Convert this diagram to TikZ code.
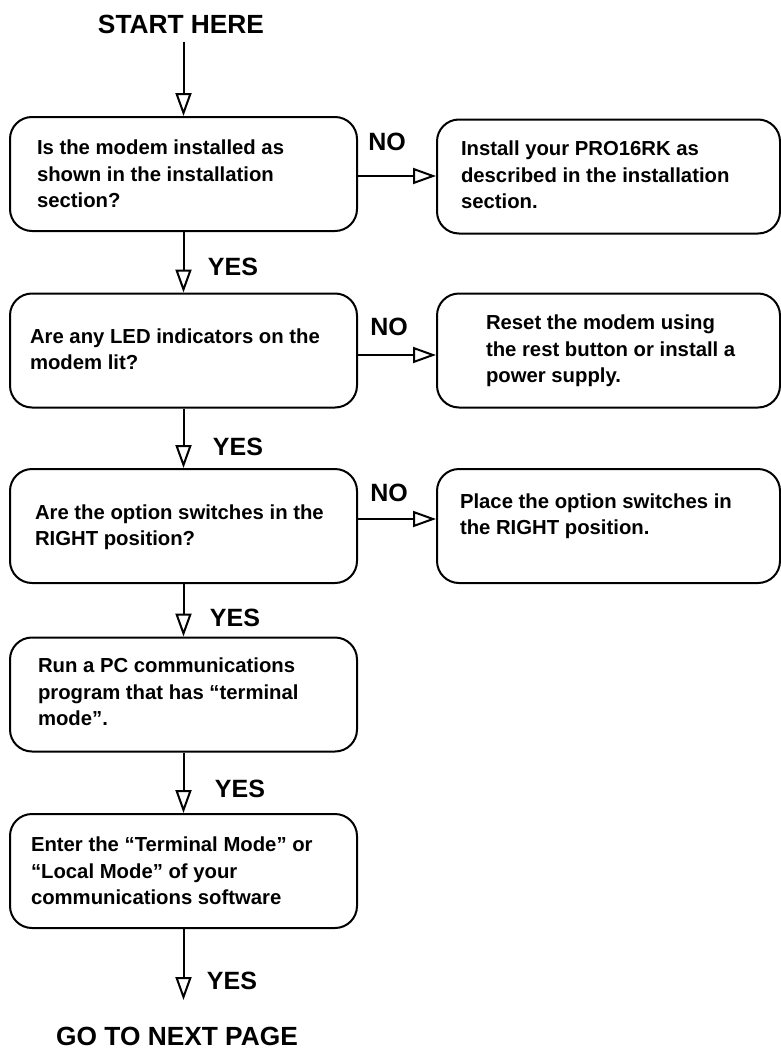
\documentclass[tikz,border=0pt]{standalone}
\usepackage{fontspec}
\setmainfont{Liberation Sans}
\usetikzlibrary{arrows.meta}
\begin{document}
\begin{tikzpicture}[x=1pt,y=-1pt,
  line width=2pt,
  box/.style={draw=black, rounded corners=22pt, minimum height=114pt, inner sep=0pt},
  lbox/.style={box, minimum width=347pt},
  rbox/.style={box, minimum width=343pt},
  txt/.style={anchor=west, inner sep=0pt, align=left, font=\fontsize{20.3}{26.5}\selectfont\bfseries},
  lab/.style={inner sep=0pt, font=\fontsize{25}{30}\selectfont\bfseries},
  big/.style={inner sep=0pt, font=\fontsize{26.3}{30}\selectfont\bfseries},
  arr/.style={-{Triangle[open, length=23pt, width=16pt, line width=2pt]}, line width=2pt}
]
\useasboundingbox (0,0) rectangle (781,1049);

% left column boxes
\node[lbox] (b1) at (183.5,174) {};
\node[lbox] (b2) at (183.5,350.5) {};
\node[lbox] (b3) at (183.5,526) {};
\node[lbox] (b4) at (183.5,694.5) {};
\node[lbox] (b5) at (183.5,871) {};
% right column boxes
\node[rbox] (r1) at (608.5,176.5) {};
\node[rbox] (r2) at (608.5,350.5) {};
\node[rbox] (r3) at (608.5,526) {};

% texts
\node[txt] (t1) at (36,174) {Is the modem installed as\\shown in the installation\\section?};
\node[txt] (t2) at (29,349) {Are any LED indicators on the\\modem lit?};
\node[txt] (t3) at (34,527) {Are the option switches in the\\RIGHT position?};
\node[txt] (t4) at (37,692) {Run a PC communications\\program that has “terminal\\mode”.};
\node[txt] (t5) at (30,871) {Enter the “Terminal Mode” or\\“Local Mode” of your\\communications software};
\node[txt] (s1) at (460,175) {Install your PRO16RK as\\described in the installation\\section.};
\node[txt] (s2) at (485,351) {Reset the modem using\\the rest button or install a\\power supply.};
\node[txt] (s3) at (459,516) {Place the option switches in\\the RIGHT position.};

% labels
\node[big] (start) at (181,24) {START HERE};
\node[big] (next) at (177,1036) {GO TO NEXT PAGE};
\node[lab] (no1) at (387,142) {NO};
\node[lab] (no2) at (389,327) {NO};
\node[lab] (no3) at (389,493) {NO};
\node[lab] (y1) at (233,267) {YES};
\node[lab] (y2) at (238,447) {YES};
\node[lab] (y3) at (235,618) {YES};
\node[lab] (y4) at (240,789) {YES};
\node[lab] (y5) at (232,981) {YES};

\coordinate (cs) at (183.5,42);
\coordinate (ce) at (181,1000);

% connectors
\draw[arr] (cs) -- (b1.north);
\draw[arr] (b1.south) -- (b2.north);
\draw[arr] (b2.south) -- (b3.north);
\draw[arr] (b3.south) -- (b4.north);
\draw[arr] (b4.south) -- (b5.north);
\draw[arr] (b5.south) -- (b5.south |- ce);
\draw[arr] (b1.east |- 0,176) -- (r1.west |- 0,176);
\draw[arr] (b2.east |- 0,355) -- (r2.west |- 0,355);
\draw[arr] (b3.east |- 0,519) -- (r3.west |- 0,519);
\end{tikzpicture}
\end{document}
